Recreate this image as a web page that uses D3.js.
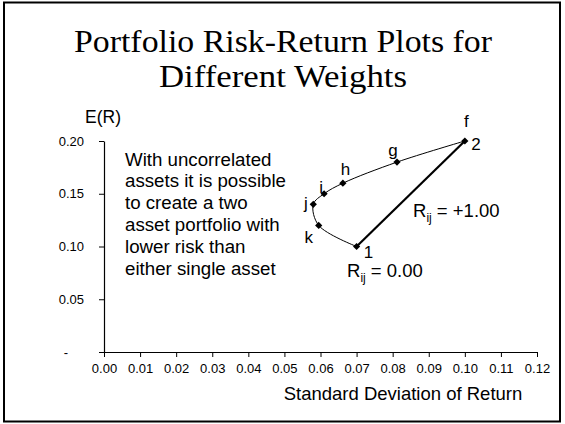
<!DOCTYPE html>
<html>
<head>
<meta charset="utf-8">
<script src="https://cdn.jsdelivr.net/npm/d3@7"></script>
<style>
  html, body { margin: 0; padding: 0; background: #fff; }
  svg { display: block; }
  text { font-family: Arial, "Liberation Sans", sans-serif; fill: #000; }
  .title { font-family: "Times New Roman", "Liberation Serif", serif; }
</style>
</head>
<body>
<svg id="chart" width="565" height="424"></svg>
<script>
// ---- data ----
const pointLabels = ["1", "k", "j", "i", "h", "g", "f"];
const stdDev      = [0.070, 0.0595, 0.058, 0.061, 0.0662, 0.0812, 0.100];
const expReturn   = [0.10, 0.12, 0.14, 0.15, 0.16, 0.18, 0.20];
const perfectStd  = [0.070, 0.100];
const perfectRet  = [0.10, 0.20];
const xTicks = [0.00, 0.01, 0.02, 0.03, 0.04, 0.05, 0.06, 0.07, 0.08, 0.09, 0.10, 0.11, 0.12];
const yTicks = [0, 0.05, 0.10, 0.15, 0.20];
const titleLines = ["Portfolio Risk-Return Plots for", "Different Weights"];
const noteLines = ["With uncorrelated", "assets it is possible", "to create a two",
                   "asset portfolio with", "lower risk than", "either single asset"];

const svg = d3.select("#chart");

// frame
svg.append("rect").attr("x", 4).attr("y", 2.5).attr("width", 556).attr("height", 419)
  .attr("fill", "none").attr("stroke", "#000").attr("stroke-width", 2);

// title
const titleWidths = [418, 248];
svg.selectAll("text.title").data(titleLines).enter().append("text")
  .attr("class", "title")
  .attr("x", 283).attr("y", (d, i) => 51.5 + i * 35)
  .attr("text-anchor", "middle")
  .attr("textLength", (d, i) => titleWidths[i])
  .attr("lengthAdjust", "spacingAndGlyphs")
  .style("font-size", "31.5px")
  .text(d => d);

const x = d3.scaleLinear().domain([0, 0.12]).range([104, 537]);
const y = d3.scaleLinear().domain([0, 0.20]).range([352, 141]);

// axes
const xAxis = svg.append("g").attr("transform", "translate(0,352)")
  .call(d3.axisBottom(x).tickValues(xTicks).tickFormat(d3.format(".2f"))
        .tickSizeInner(5).tickSizeOuter(0).tickPadding(7));
const yAxis = svg.append("g").attr("transform", "translate(104,0)")
  .call(d3.axisLeft(y).tickValues(yTicks).tickFormat(d => d === 0 ? "-" : d3.format(".2f")(d))
        .tickSizeInner(5).tickSizeOuter(0).tickPadding(15));
[xAxis, yAxis].forEach(g => {
  g.select(".domain").attr("stroke", "#000").attr("stroke-width", 1.2);
  g.selectAll(".tick line").attr("stroke", "#000");
  g.selectAll(".tick text").style("font-size", "13px")
    .style("font-family", "Arial, 'Liberation Sans', sans-serif").attr("fill", "#000");
});
yAxis.selectAll(".tick text").filter(d => d === 0).attr("x", -36);

// axis titles
svg.append("text").attr("x", 103).attr("y", 123).attr("text-anchor", "middle")
  .style("font-size", "17.5px").text("E(R)");
svg.append("text").attr("x", 403).attr("y", 400).attr("text-anchor", "middle")
  .style("font-size", "18.5px").text("Standard Deviation of Return");

// note text
svg.selectAll("text.note").data(noteLines).enter().append("text")
  .attr("class", "note")
  .attr("x", 125).attr("y", (d, i) => 165.5 + i * 21.9)
  .style("font-size", "18.7px")
  .text(d => d);

// lines
const pts = stdDev.map((s, i) => ({ s, r: expReturn[i], label: pointLabels[i] }));
const line = d3.line().x(d => x(d.s)).y(d => y(d.r));
svg.append("path").datum(pts)
  .attr("d", line.curve(d3.curveCatmullRom.alpha(0.5)))
  .attr("fill", "none").attr("stroke", "#000").attr("stroke-width", 1);
const perf = perfectStd.map((s, i) => ({ s, r: perfectRet[i] }));
svg.append("path").datum(perf)
  .attr("d", d3.line().x(d => x(d.s)).y(d => y(d.r)))
  .attr("fill", "none").attr("stroke", "#000").attr("stroke-width", 2.2);

// markers
svg.selectAll("path.mk").data(pts).enter().append("path")
  .attr("class", "mk")
  .attr("d", d3.symbol(d3.symbolSquare, 26))
  .attr("transform", d => `translate(${x(d.s)},${y(d.r)}) rotate(45)`)
  .attr("fill", "#000");

// point labels
const labelOffsets = {
  "1": [12, 11, "middle"], "k": [-10, 18, "middle"], "j": [-7.5, 5, "middle"],
  "i": [-3, -1, "middle"], "h": [2.5, -8.5, "middle"], "g": [-4, -6, "middle"],
  "f": [1.5, -14.5, "middle"]
};
svg.selectAll("text.pl").data(pts).enter().append("text")
  .attr("class", "pl")
  .attr("x", d => x(d.s) + labelOffsets[d.label][0])
  .attr("y", d => y(d.r) + labelOffsets[d.label][1])
  .attr("text-anchor", d => labelOffsets[d.label][2])
  .style("font-size", "17px")
  .text(d => d.label);
// asset 2 label
svg.append("text").attr("x", x(perfectStd[1]) + 6.5).attr("y", y(perfectRet[1]) + 9)
  .style("font-size", "17px").text("2");

// correlation labels
function corrLabel(xp, yp, val) {
  const t = svg.append("text").attr("x", xp).attr("y", yp).style("font-size", "18.5px");
  t.append("tspan").text("R");
  t.append("tspan").attr("dy", 5).style("font-size", "12px").text("ij");
  t.append("tspan").attr("dy", -5).text(" = " + val);
}
corrLabel(347, 277, "0.00");
corrLabel(413, 216.5, "+1.00");
</script>
</body>
</html>
